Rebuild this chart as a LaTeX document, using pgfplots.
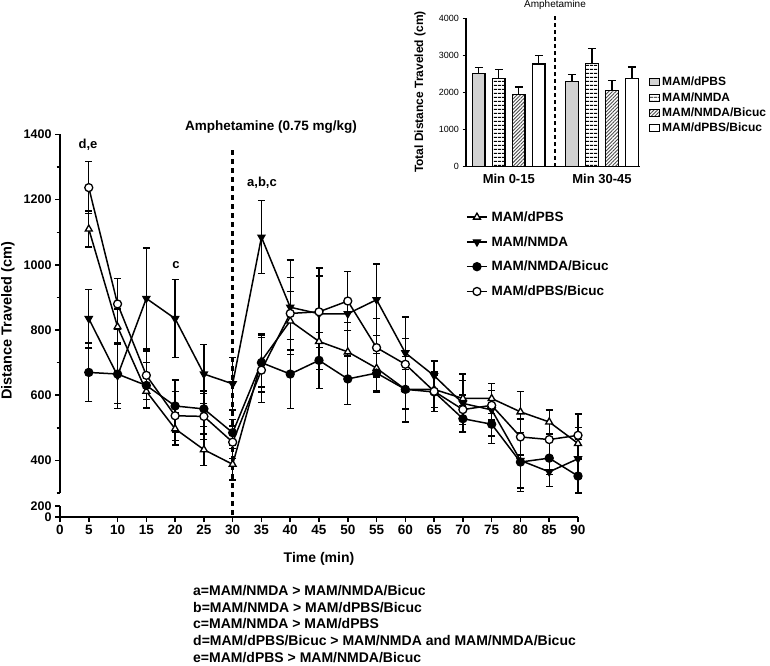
\documentclass[border=0pt]{standalone}
\usepackage{fontspec}
\setmainfont{Liberation Sans}
\usepackage{pgfplots}
\usepackage{pgfplotstable}
\pgfplotsset{compat=1.18}
\usetikzlibrary{patterns,patterns.meta}
\newcommand{\fs}[1]{\fontsize{#1}{#1}\selectfont\bfseries}

\pgfplotstableread{
x y e
5 1110 55
10 810 55
15 612 50
20 497 50
25 433 48
30 388 48
35 705 80
40 828 90
45 765 85
50 733 90
55 683 70
60 618 60
65 618 55
70 590 55
75 590 45
80 549 63
85 518 37
90 452 50
}\dpbs
\pgfplotstableread{
x y e
5 835 90
10 660 100
15 897 155
20 835 120
25 665 90
30 635 80
35 1085 112
40 870 145
45 850 140
50 850 130
55 893 110
60 730 110
65 660 45
70 575 90
75 555 80
80 400 85
85 365 45
90 405 60
}\nmda
\pgfplotstableread{
x y e
5 670 90
10 665 90
15 630 70
20 567 80
25 558 55
30 485 40
35 700 90
40 665 105
45 707 86
50 650 78
55 668 60
60 618 100
65 610 60
70 528 40
75 511 60
80 395 90
85 407 50
90 352 52
}\nmdabic
\pgfplotstableread{
x y e
5 1237 80
10 880 78
15 661 75
20 537 75
25 535 70
30 456 50
35 677 100
40 851 110
45 856 110
50 889 90
55 746 90
60 695 80
65 612 50
70 556 45
75 569 45
80 472 55
85 464 50
90 477 65
}\dpbsbic

\pgfplotsset{
  ser/.style={black, line width=1.5pt, mark size=4pt,
    error bars/y dir=both, error bars/y explicit,
    error bars/error bar style={line width=1.3pt, solid},
    error bars/error mark options={rotate=90, mark size=3.5pt, line width=1.3pt}},
}

\begin{document}
\begin{tikzpicture}
\useasboundingbox (0pt,0pt) rectangle (770pt,665pt);

% ---------- main chart, upper part ----------
\begin{axis}[
  at={(60pt,172pt)}, anchor=south west, scale only axis,
  width=518pt, height=358.5pt,
  xmin=0, xmax=90, ymin=300, ymax=1400,
  axis x line=none, axis y line*=left,
  y axis line style={line width=1.8pt,-},
  ytick={400,600,...,1400}, minor ytick={300,500,...,1300},
  tick align=outside, major tick length=5pt, minor tick length=3.5pt,
  every tick/.style={black, line width=1.5pt},
  /pgf/number format/1000 sep={}, /pgf/number format/assume math mode=true,
  yticklabel style={font=\fs{12.5}},
  clip=false,
  legend style={at={(0.778,0.797)}, anchor=north west, draw=none, fill=none,
    font=\fs{13.5}, row sep=9.5pt, column sep=2pt},
  legend cell align=left,
  legend image code/.code={\draw[mark repeat=2, mark phase=2, #1] plot coordinates {(0pt,0pt) (10pt,0pt) (20pt,0pt)};},
]
\addplot[ser, mark=triangle*, mark options={solid, fill=white, line width=1.3pt}]
  table[x=x, y=y, y error=e]{\dpbs};
\addlegendentry{MAM/dPBS}
\addplot[ser, mark=triangle*, mark options={solid, fill=black, rotate=180, line width=1.3pt}]
  table[x=x, y=y, y error=e]{\nmda};
\addlegendentry{MAM/NMDA}
\addplot[ser, mark=*, mark options={solid, fill=black, line width=1.3pt}]
  table[x=x, y=y, y error=e]{\nmdabic};
\addlegendentry{MAM/NMDA/Bicuc}
\addplot[ser, mark=*, mark options={solid, fill=white, line width=1.3pt}]
  table[x=x, y=y, y error=e]{\dpbsbic};
\addlegendentry{MAM/dPBS/Bicuc}
\draw[line width=2.5pt, dash pattern=on 5pt off 4pt] (axis cs:30,1352) -- (axis cs:30,226.4);
\end{axis}

% ---------- main chart, lower part ----------
\begin{axis}[
  at={(60pt,148pt)}, anchor=south west, scale only axis,
  width=518pt, height=11pt,
  xmin=0, xmax=90, ymin=0, ymax=200,
  axis x line*=bottom, axis y line*=left,
  axis line style={line width=1.8pt,-},
  xtick={0,5,...,90}, ytick={0,200},
  tick align=outside, major tick length=5pt,
  every tick/.style={black, line width=1.5pt},
  /pgf/number format/1000 sep={}, /pgf/number format/assume math mode=true,
  yticklabel style={font=\fs{12.5}}, xticklabel style={font=\fs{13.5}},
  clip=false,
]
\addplot[draw=none] coordinates {(0,0)};
\end{axis}

% ---------- inset bar chart ----------
\begin{axis}[
  at={(466pt,498.3pt)}, anchor=south west, scale only axis,
  width=174pt, height=148.4pt,
  xmin=0.541, xmax=2.408, ymin=0, ymax=4000,
  axis x line*=bottom, axis y line*=left,
  axis line style={line width=1.3pt,-},
  ytick={0,1000,...,4000}, tick align=outside, major tick length=3.5pt,
  every tick/.style={black, line width=1.1pt},
  /pgf/number format/1000 sep={}, /pgf/number format/assume math mode=true,
  yticklabel style={font=\fontsize{9}{9}\selectfont},
  xtick={1,2}, xticklabels={Min 0-15,Min 30-45},
  xticklabel style={font=\fs{13}}, x tick style={draw=none},
  ybar, bar width=12.3pt, clip=false,
  legend style={at={(1.034,0.631)}, anchor=north west, draw=none, fill=none,
    font=\fs{12}, row sep=1pt},
  legend cell align=left,
  legend image code/.code={\draw[#1, line width=1pt] (0pt,-3.5pt) rectangle (10pt,3.5pt);},
]
\addplot[fill=gray!35, draw=black, line width=1.2pt, bar shift=-30pt,
  error bars/.cd, y dir=plus, y explicit, error bar style={line width=1.2pt},
  error mark options={rotate=90, mark size=4pt, line width=1.2pt}]
  coordinates {(1,2520) +- (0,160) (2,2300) +- (0,190)};
\addlegendentry{\fs{12}MAM/dPBS}
\addplot[pattern={Lines[angle=0,distance=4pt,line width=1pt]}, pattern color=black, draw=black, line width=1.2pt, bar shift=-10pt,
  error bars/.cd, y dir=plus, y explicit, error bar style={line width=1.2pt},
  error mark options={rotate=90, mark size=4pt, line width=1.2pt}]
  coordinates {(1,2370) +- (0,250) (2,2790) +- (0,390)};
\addlegendentry{\fs{12}MAM/NMDA}
\addplot[pattern={Lines[angle=45,distance=2.5pt,line width=0.9pt]}, pattern color=black!70, draw=black, line width=1.2pt, bar shift=10pt,
  error bars/.cd, y dir=plus, y explicit, error bar style={line width=1.2pt},
  error mark options={rotate=90, mark size=4pt, line width=1.2pt}]
  coordinates {(1,1950) +- (0,200) (2,2060) +- (0,270)};
\addlegendentry{\fs{12}MAM/NMDA/Bicuc}
\addplot[fill=white, draw=black, line width=1.2pt, bar shift=30pt,
  error bars/.cd, y dir=plus, y explicit, error bar style={line width=1.2pt},
  error mark options={rotate=90, mark size=4pt, line width=1.2pt}]
  coordinates {(1,2770) +- (0,220) (2,2380) +- (0,310)};
\addlegendentry{\fs{12}MAM/dPBS/Bicuc}
\draw[line width=2pt, dash pattern=on 4pt off 3pt] (axis cs:1.5,0) -- (axis cs:1.5,4090);
\end{axis}

% ---------- text ----------
\node[font=\fontsize{10}{10}\selectfont, inner sep=0] at (555pt,660pt) {Amphetamine};
\node[font=\fs{12}, rotate=90, inner sep=0] at (420pt,573pt) {Total Distance Traveled (cm)};
\node[font=\fs{14.5}, rotate=90, inner sep=0] at (8pt,344pt) {Distance Traveled (cm)};
\node[font=\fs{14}, inner sep=0] at (319pt,106pt) {Time (min)};
\node[font=\fs{13.5}, inner sep=0] at (271pt,538pt) {Amphetamine (0.75 mg/kg)};
\node[font=\fs{13}, inner sep=0] at (88pt,520pt) {d,e};
\node[font=\fs{13}, inner sep=0] at (176pt,400pt) {c};
\node[font=\fs{13}, inner sep=0] at (262pt,482pt) {a,b,c};
\node[font=\fs{14}, inner sep=0, anchor=base west] at (193pt,70pt) {a=MAM/NMDA > MAM/NMDA/Bicuc};
\node[font=\fs{14}, inner sep=0, anchor=base west] at (193pt,53pt) {b=MAM/NMDA > MAM/dPBS/Bicuc};
\node[font=\fs{14}, inner sep=0, anchor=base west] at (193pt,36.5pt) {c=MAM/NMDA > MAM/dPBS};
\node[font=\fs{14}, inner sep=0, anchor=base west] at (193pt,20pt) {d=MAM/dPBS/Bicuc > MAM/NMDA and MAM/NMDA/Bicuc};
\node[font=\fs{14}, inner sep=0, anchor=base west] at (193pt,3pt) {e=MAM/dPBS > MAM/NMDA/Bicuc};
\end{tikzpicture}
\end{document}
